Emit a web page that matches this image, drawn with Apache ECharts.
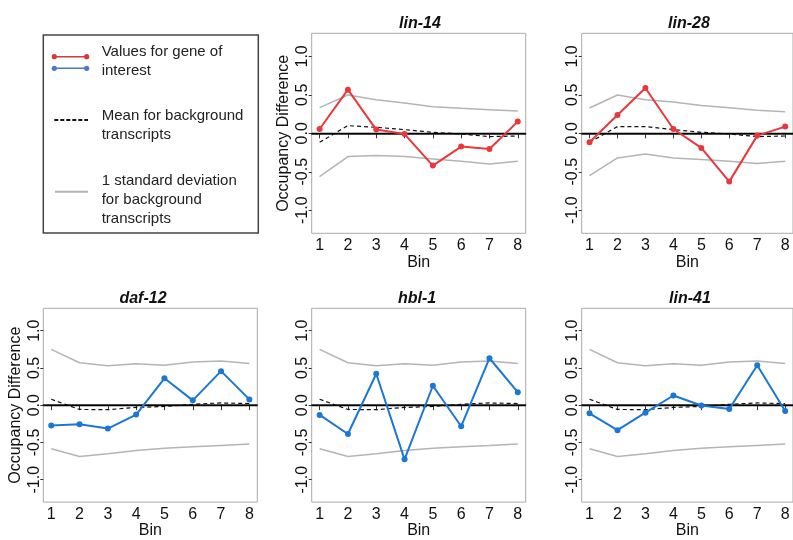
<!DOCTYPE html>
<html lang="en">
<head>
<meta charset="UTF-8">
<title>Occupancy Difference</title>
<script src="https://cdn.jsdelivr.net/npm/echarts@6.0.0/dist/echarts.min.js"></script>
<style>
  html, body { margin: 0; padding: 0; background: #fff; }
  #chart { width: 793px; height: 540px; }
</style>
</head>
<body>
<div id="chart"></div>
<script>
// bins and tick labels
const bins = [1, 2, 3, 4, 5, 6, 7, 8];
const yTicks = [-1, -0.5, 0, 0.5, 1];

// gene values
const lin14Values = [0.056, 0.567, 0.048, -0.01, -0.42, -0.173, -0.203, 0.152];
const lin28Values = [-0.117, 0.238, 0.589, 0.056, -0.19, -0.628, -0.03, 0.087];
const daf12Values = [-0.274, -0.257, -0.313, -0.126, 0.361, 0.065, 0.457, 0.078];
const hbl1Values = [-0.13, -0.387, 0.422, -0.726, 0.261, -0.283, 0.63, 0.174];
const lin41Values = [-0.109, -0.335, -0.1, 0.13, -0.004, -0.052, 0.535, -0.078];

// background transcripts (top row)
const lin14Mean = [-0.117, 0.1, 0.078, 0.048, 0.013, -0.009, -0.043, -0.035];
const lin14Upper = [0.333, 0.498, 0.437, 0.394, 0.346, 0.325, 0.307, 0.29];
const lin14Lower = [-0.563, -0.303, -0.29, -0.303, -0.333, -0.364, -0.398, -0.364];
const lin28Mean = [-0.117, 0.087, 0.087, 0.048, 0.013, -0.009, -0.043, -0.035];
const lin28Upper = [0.329, 0.498, 0.437, 0.407, 0.36, 0.333, 0.3, 0.281];
const lin28Lower = [-0.55, -0.32, -0.268, -0.32, -0.342, -0.364, -0.394, -0.364];

// background transcripts (bottom row, same for all three)
const bottomMean = [0.08, -0.057, -0.06, -0.03, -0.017, 0.013, 0.03, 0.022];
const bottomUpper = [0.748, 0.57, 0.528, 0.555, 0.535, 0.578, 0.594, 0.561];
const bottomLower = [-0.585, -0.687, -0.652, -0.608, -0.577, -0.556, -0.539, -0.521];

const RED = '#e8383d';
const BLUE = '#1b77d3';
const FONT = 'Liberation Sans, Arial, sans-serif';

const panels = [
  { title: 'lin-14', values: lin14Values, mean: lin14Mean, upper: lin14Upper, lower: lin14Lower,
    color: RED, left: 311.7, top: 33.3, titleX: 415, titleY: 11, yName: true },
  { title: 'lin-28', values: lin28Values, mean: lin28Mean, upper: lin28Upper, lower: lin28Lower,
    color: RED, left: 581.7, top: 33.3, titleX: 684, titleY: 11, yName: false },
  { title: 'daf-12', values: daf12Values, mean: bottomMean, upper: bottomUpper, lower: bottomLower,
    color: BLUE, left: 43.3, top: 308.3, titleX: 138, titleY: 286, yName: true },
  { title: 'hbl-1', values: hbl1Values, mean: bottomMean, upper: bottomUpper, lower: bottomLower,
    color: BLUE, left: 311.7, top: 308.3, titleX: 412, titleY: 286, yName: false },
  { title: 'lin-41', values: lin41Values, mean: bottomMean, upper: bottomUpper, lower: bottomLower,
    color: BLUE, left: 581.7, top: 308.3, titleX: 685, titleY: 286, yName: false }
];

const pairs = arr => bins.map((b, i) => [b, arr[i]]);

const grid = [], xAxis = [], yAxis = [], title = [], series = [];

panels.forEach((p, i) => {
  grid.push({
    left: p.left, top: p.top, width: 214, height: 200,
    show: true, borderColor: '#aaaaaa', borderWidth: 1
  });
  title.push({
    text: p.title, left: p.titleX, top: p.titleY, textAlign: 'center',
    textStyle: { fontFamily: FONT, fontSize: 16, fontWeight: 'bold', fontStyle: 'italic', color: '#111' }
  });
  xAxis.push({
    gridIndex: i, type: 'value', min: 0.72, max: 8.28,
    name: 'Bin', nameLocation: 'middle', nameGap: 19,
    nameTextStyle: { fontFamily: FONT, fontSize: 16, color: '#111' },
    axisLine: { show: true, lineStyle: { color: '#333', width: 1.5 } },
    axisTick: { show: true, customValues: bins, length: 5, lineStyle: { color: '#333' } },
    axisLabel: { customValues: bins, margin: 4, fontFamily: FONT, fontSize: 16, color: '#111' },
    splitLine: { show: false }
  });
  yAxis.push({
    gridIndex: i, type: 'value', min: -1.3, max: 1.3,
    name: p.yName ? 'Occupancy Difference' : '', nameLocation: 'middle', nameGap: 20,
    nameTextStyle: { fontFamily: FONT, fontSize: 16, color: '#111' },
    axisLine: { show: false },
    axisTick: { show: true, customValues: yTicks, length: 3, lineStyle: { color: '#333' } },
    axisLabel: {
      customValues: yTicks, rotate: 90, margin: 1,
      fontFamily: FONT, fontSize: 16, color: '#111',
      formatter: v => v.toFixed(1)
    },
    splitLine: { show: false }
  });

  const sd = (arr) => ({
    type: 'line', xAxisIndex: i, yAxisIndex: i, data: pairs(arr),
    symbol: 'none', silent: true, z: 1,
    lineStyle: { color: '#b4b4b4', width: 1.5 }
  });
  series.push(sd(p.upper), sd(p.lower));
  series.push({
    type: 'line', xAxisIndex: i, yAxisIndex: i, data: pairs(p.mean),
    symbol: 'none', silent: true, z: 2,
    lineStyle: { color: '#111', width: 1.2, type: [4, 3] }
  });
  series.push({
    type: 'line', xAxisIndex: i, yAxisIndex: i, data: pairs(p.values),
    symbol: 'circle', symbolSize: 6, z: 4,
    lineStyle: { color: p.color, width: 2 },
    itemStyle: { color: p.color },
    markLine: {
      silent: true, symbol: 'none', z: 3,
      label: { show: false },
      lineStyle: { color: '#000', type: 'solid', width: 1.3 },
      data: [{ yAxis: 0 }]
    }
  });
});

// legend box in the top-left cell
const legendText = (txt, y) => ({
  type: 'text', left: 101.7, top: y,
  style: { text: txt, font: '15px ' + FONT, fill: '#222', textVerticalAlign: 'middle' }
});
const graphic = [
  { type: 'rect', shape: { x: 43.3, y: 35, width: 215, height: 198 },
    style: { fill: 'none', stroke: '#444', lineWidth: 1.5 } },
  { type: 'line', shape: { x1: 54.3, y1: 56.7, x2: 86.7, y2: 56.7 }, style: { stroke: '#d33a3e', lineWidth: 1.5 } },
  { type: 'circle', shape: { cx: 54.3, cy: 56.7, r: 2.6 }, style: { fill: '#d33a3e' } },
  { type: 'circle', shape: { cx: 86.7, cy: 56.7, r: 2.6 }, style: { fill: '#d33a3e' } },
  { type: 'line', shape: { x1: 54.3, y1: 68.3, x2: 86.7, y2: 68.3 }, style: { stroke: '#4a78c8', lineWidth: 1.5 } },
  { type: 'circle', shape: { cx: 54.3, cy: 68.3, r: 2.6 }, style: { fill: '#4a78c8' } },
  { type: 'circle', shape: { cx: 86.7, cy: 68.3, r: 2.6 }, style: { fill: '#4a78c8' } },
  { type: 'line', shape: { x1: 54.3, y1: 120, x2: 88, y2: 120 }, style: { stroke: '#111', lineWidth: 2, lineDash: [4, 2] } },
  { type: 'line', shape: { x1: 55, y1: 191.7, x2: 88, y2: 191.7 }, style: { stroke: '#b4b4b4', lineWidth: 2 } },
  legendText('Values for gene of', 44),
  legendText('interest', 63.5),
  legendText('Mean for background', 108),
  legendText('transcripts', 127.5),
  legendText('1 standard deviation', 173),
  legendText('for background', 192.5),
  legendText('transcripts', 211.5)
];

const myChart = echarts.init(document.getElementById('chart'), null, { renderer: 'canvas' });
myChart.setOption({
  animation: false,
  backgroundColor: '#fff',
  title, grid, xAxis, yAxis, series, graphic
});
</script>
</body>
</html>
